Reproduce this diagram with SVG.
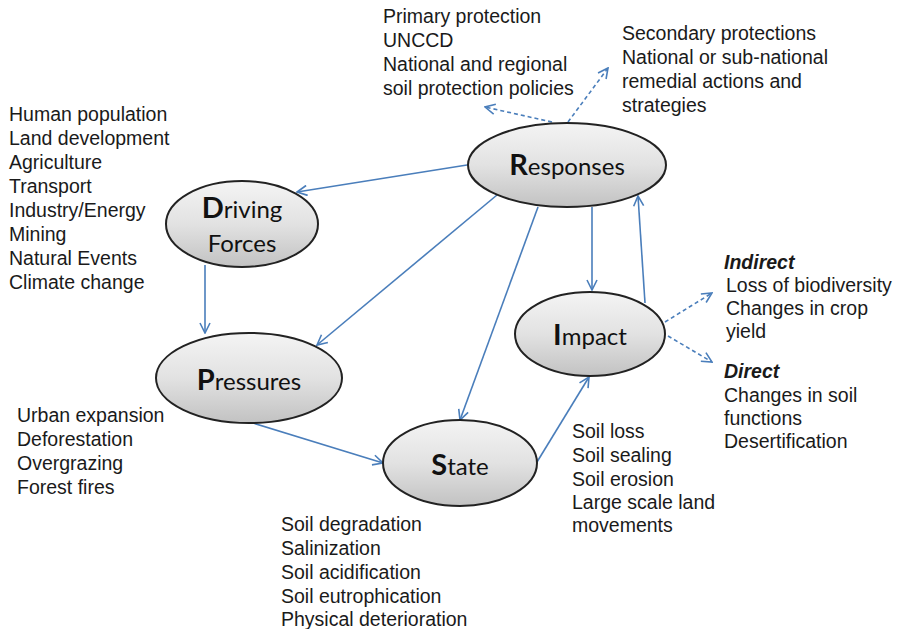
<svg xmlns="http://www.w3.org/2000/svg" width="900" height="629" viewBox="0 0 900 629">
<defs>
<linearGradient id="g" x1="0" y1="0" x2="0" y2="1">
<stop offset="0" stop-color="#f4f4f4"/>
<stop offset="0.5" stop-color="#e2e2e2"/>
<stop offset="1" stop-color="#c2c2c2"/>
</linearGradient>
<marker id="a" viewBox="0 0 12 12" refX="11" refY="6" markerWidth="12" markerHeight="12" markerUnits="userSpaceOnUse" orient="auto">
<path d="M1,1 L11,6 L1,11" fill="none" stroke="#4a7ebb" stroke-width="1.6"/>
</marker>
</defs>
<style>
.n{fill:url(#g);stroke:#222;stroke-width:2}
.c{stroke:#4a7ebb;stroke-width:1.6;fill:none;marker-end:url(#a)}
.d{stroke-dasharray:4 3}
.t{font-family:"Liberation Sans",Arial,sans-serif;font-size:19.5px;fill:#1a1a1a}
.h{font-style:italic;font-weight:bold}
.nt{font-family:Lato,"Open Sans",sans-serif;font-size:24px;fill:#111;text-anchor:middle}
.b{font-weight:bold;font-size:29px}
</style>
<rect width="900" height="629" fill="#fff"/>
<g id="connectors">
<line class="c" x1="467" y1="165" x2="297" y2="192"/>
<line class="c" x1="497" y1="195" x2="317" y2="345"/>
<line class="c" x1="538" y1="207" x2="460" y2="420"/>
<line class="c" x1="592" y1="207" x2="592" y2="290"/>
<line class="c" x1="645" y1="303" x2="638" y2="196"/>
<line class="c" x1="537" y1="462" x2="589" y2="377"/>
<line class="c" x1="205" y1="265" x2="205" y2="333"/>
<line class="c" x1="253" y1="423" x2="383" y2="463"/>
<line class="c d" x1="552" y1="122" x2="485" y2="107"/>
<line class="c d" x1="568" y1="122" x2="608" y2="68"/>
<line class="c d" x1="665" y1="322" x2="712" y2="293"/>
<line class="c d" x1="668" y1="336" x2="712" y2="362"/>
</g>
<g id="driving">
<ellipse class="n" cx="242" cy="224" rx="76" ry="43"/>
<text class="nt" x="242" y="218"><tspan class="b">D</tspan>riving</text>
<text class="nt" x="242" y="252">Forces</text>
</g>
<g id="responses">
<ellipse class="n" cx="567" cy="165" rx="99" ry="42"/>
<text class="nt" x="567" y="175"><tspan class="b">R</tspan>esponses</text>
</g>
<g id="pressures">
<ellipse class="n" cx="249" cy="378" rx="93" ry="45"/>
<text class="nt" x="249" y="390"><tspan class="b">P</tspan>ressures</text>
</g>
<g id="impact">
<ellipse class="n" cx="590" cy="334" rx="75" ry="42"/>
<text class="nt" x="590" y="345"><tspan class="b">I</tspan>mpact</text>
</g>
<g id="state">
<ellipse class="n" cx="460" cy="463" rx="77" ry="43"/>
<text class="nt" x="460" y="475"><tspan class="b">S</tspan>tate</text>
</g>
<g id="labels">
<text class="t" x="9" y="121">Human population</text>
<text class="t" x="9" y="145">Land development</text>
<text class="t" x="9" y="169">Agriculture</text>
<text class="t" x="9" y="193">Transport</text>
<text class="t" x="9" y="217">Industry/Energy</text>
<text class="t" x="9" y="241">Mining</text>
<text class="t" x="9" y="265">Natural Events</text>
<text class="t" x="9" y="289">Climate change</text>
<text class="t" x="383" y="23">Primary protection</text>
<text class="t" x="383" y="47">UNCCD</text>
<text class="t" x="383" y="71">National and regional</text>
<text class="t" x="383" y="95">soil protection policies</text>
<text class="t" x="622" y="40">Secondary protections</text>
<text class="t" x="622" y="64">National or sub-national</text>
<text class="t" x="622" y="88">remedial actions and</text>
<text class="t" x="622" y="112">strategies</text>
<text class="t h" x="724" y="269">Indirect</text>
<text class="t" x="726" y="292">Loss of biodiversity</text>
<text class="t" x="726" y="315">Changes in crop</text>
<text class="t" x="726" y="338">yield</text>
<text class="t h" x="724" y="378">Direct</text>
<text class="t" x="724" y="402">Changes in soil</text>
<text class="t" x="724" y="425">functions</text>
<text class="t" x="724" y="448">Desertification</text>
<text class="t" x="17" y="422">Urban expansion</text>
<text class="t" x="17" y="446">Deforestation</text>
<text class="t" x="17" y="470">Overgrazing</text>
<text class="t" x="17" y="494">Forest fires</text>
<text class="t" x="572" y="438">Soil loss</text>
<text class="t" x="572" y="462">Soil sealing</text>
<text class="t" x="572" y="486">Soil erosion</text>
<text class="t" x="572" y="509">Large scale land</text>
<text class="t" x="572" y="532">movements</text>
<text class="t" x="281" y="531">Soil degradation</text>
<text class="t" x="281" y="555">Salinization</text>
<text class="t" x="281" y="579">Soil acidification</text>
<text class="t" x="281" y="603">Soil eutrophication</text>
<text class="t" x="281" y="626">Physical deterioration</text>
</g>
</svg>
